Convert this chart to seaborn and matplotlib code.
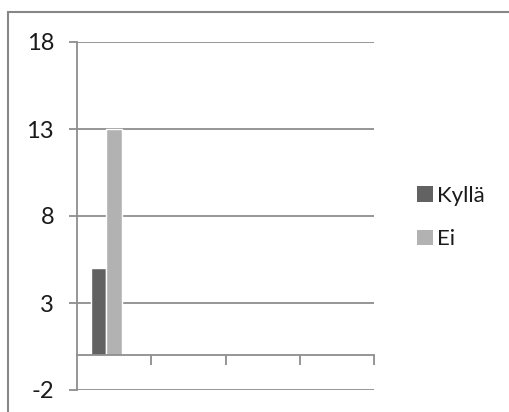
import numpy as np
import pandas as pd
import matplotlib
matplotlib.use("Agg")
import matplotlib.pyplot as plt
from matplotlib.patches import Patch, Rectangle
import seaborn as sns

# Chart data: four category slots, three series slots (the third one is empty)
categories = ["1", "2", "3", "4"]
series = ["Kyllä", "Ei", "Muu"]
kylla = [5, np.nan, np.nan, np.nan]
ei = [13, np.nan, np.nan, np.nan]
muu = [np.nan, np.nan, np.nan, np.nan]
legend_series = ["Kyllä", "Ei"]
y_ticks = [-2, 3, 8, 13, 18]
colors = {"Kyllä": "#626262", "Ei": "#b2b2b2", "Muu": "#d9d9d9"}

df = pd.DataFrame({
    "luokka": categories * len(series),
    "sarja": [s for s in series for _ in categories],
    "arvo": kylla + ei + muu,
})

sns.set_theme(style="white")
plt.rcParams["font.family"] = ["Lato", "DejaVu Sans"]

W, H = 510, 412
fig = plt.figure(figsize=(W / 100, H / 100), dpi=100)
fig.patch.set_facecolor("white")
ax = fig.add_axes([77 / W, 1 - 390 / H, (374 - 77) / W, (390 - 42) / H])

sns.barplot(data=df, x="luokka", y="arvo", hue="sarja", order=categories,
            hue_order=series, palette=colors, width=0.625, saturation=1,
            errorbar=None, legend=False, ax=ax)

grid_col = "#8e8e8e"
ax.set_xlim(-0.5, 3.5)
ax.set_ylim(-2, 18)
ax.set_xlabel("")
ax.set_ylabel("")
ax.yaxis.grid(True, color=grid_col, lw=1.3)
ax.set_axisbelow(True)

# category axis drawn at zero, with tick marks between categories
ax.spines["bottom"].set_position(("data", 0))
ax.spines["bottom"].set_color(grid_col)
ax.spines["bottom"].set_linewidth(1.3)
ax.spines["left"].set_color(grid_col)
ax.spines["left"].set_linewidth(1.3)
ax.spines["top"].set_visible(False)
ax.spines["right"].set_visible(False)
ax.set_xticks([0.5, 1.5, 2.5, 3.5])
ax.set_xticklabels([])
ax.tick_params(axis="x", bottom=True, direction="out", length=7,
               width=1.3, color=grid_col)
ax.tick_params(axis="y", left=True, direction="out", length=5.5,
               width=1.3, color=grid_col, pad=11)
ax.set_yticks(y_ticks)
ax.set_yticklabels([str(v) for v in y_ticks], fontsize=17,
                   color="#1a1a1a", family=["Lato", "DejaVu Sans"])

handles = [Patch(facecolor=colors[s], edgecolor="none") for s in legend_series]
fig.legend(handles, legend_series, loc="center left",
           bbox_to_anchor=(417 / W, 1 - 217.5 / H), frameon=False,
           fontsize=16, handlelength=0.7, handleheight=0.7,
           handletextpad=0.2, labelspacing=1.05, borderpad=0,
           borderaxespad=0, labelcolor="#1a1a1a")

# outer chart-area frame
fig.patches.append(Rectangle((8 / W, -0.1), 1.2, 1 - 12 / H + 0.1,
                             transform=fig.transFigure, fill=False,
                             edgecolor="#878787", lw=1.5))

fig.savefig("out.png", dpi=100)
